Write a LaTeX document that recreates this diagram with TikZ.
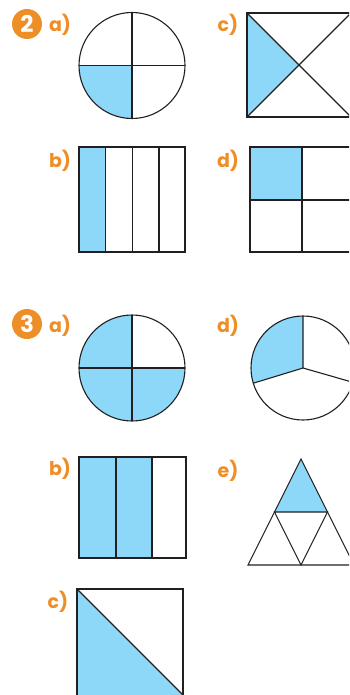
\documentclass[tikz,border=0pt]{standalone}
\usepackage{fontspec}
\setmainfont{Poppins}
\usetikzlibrary{arrows,shapes}
\definecolor{qblue}{HTML}{8DD8F8}
\definecolor{qorange}{HTML}{EE8E26}
\definecolor{qline}{HTML}{231F20}
\tikzstyle{part}=[draw=qline,line width=1.1pt,line join=miter]
\tikzstyle{shade}=[fill=qblue]
\tikzstyle{qlabel}=[text=qorange,font=\bfseries\fontsize{19}{19}\selectfont,inner sep=0pt]
\tikzstyle{qnum}=[circle,fill=qorange,text=white,minimum size=30pt,inner sep=0pt,font=\bfseries\fontsize{23}{23}\selectfont]

\begin{document}
\begin{tikzpicture}[x=1pt,y=-1pt]
\useasboundingbox (0,0) rectangle (349,695);
\clip (0,0) rectangle (349,695);
% question 2
\node[qnum] (Q2) at (27,24) {2};
\node[qlabel] (L2a) at (60,25) {a)};
\node[qlabel] (L2c) at (228,25) {c)};
\node[qlabel] (L2b) at (60,161) {b)};
\node[qlabel] (L2d) at (228,161) {d)};
\coordinate (C2a) at (132,65.5);
\fill[shade] (C2a) -- +(90:53) arc[start angle=90,end angle=180,radius=53] -- cycle;
\draw[part] (C2a) circle[radius=53];
\draw[part] (79,65.5)--(185,65.5) (132,12.5)--(132,118.5);
\fill[shade] (247,13)--(299,65)--(247,117)--cycle;
\draw[part] (247,13) rectangle (351,117);
\draw[part] (247,13)--(351,117) (247,117)--(351,13);
\fill[shade] (79,147) rectangle (105.7,252);
\draw[part] (79,147) rectangle (185,252);
\draw[part] (105.7,147)--(105.7,252) (132.3,147)--(132.3,252) (159,147)--(159,252);
\fill[shade] (250,147) rectangle (302,200);
\draw[part] (250,147) rectangle (354,252);
\draw[part] (302,147)--(302,252) (250,200)--(354,200);
% question 3
\node[qnum] (Q3) at (27,324) {3};
\node[qlabel] (L3a) at (60,326) {a)};
\node[qlabel] (L3d) at (228,326) {d)};
\node[qlabel] (L3b) at (60,469) {b)};
\node[qlabel] (L3e) at (228,471) {e)};
\node[qlabel] (L3c) at (58,602) {c)};
\coordinate (C3a) at (132,368);
\fill[shade] (C3a) -- +(0:53) arc[start angle=0,end angle=270,radius=53] -- cycle;
\draw[part] (C3a) circle[radius=53];
\draw[part] (79,368)--(185,368) (132,315)--(132,421);
\coordinate (C3d) at (303,368);
\fill[shade] (C3d) -- +(163:52) arc[start angle=163,end angle=270,radius=52] -- cycle;
\draw[part] (C3d) circle[radius=52];
\draw[part] (C3d)--+(270:52) (C3d)--+(163:52) (C3d)--+(16:52);
\fill[shade] (79,457) rectangle (152,558);
\draw[part] (79,457) rectangle (186,558);
\draw[part] (116,457)--(116,558) (152,457)--(152,558);
\fill[shade] (301,459)--(274.5,512)--(327.5,512)--cycle;
\draw[part] (301,459)--(248,565)--(354,565)--cycle;
\draw[part] (274.5,512)--(327.5,512)--(301,565)--cycle;
\fill[shade] (77,589)--(183,695)--(77,695)--cycle;
\draw[part] (77,589) rectangle (183,696);
\draw[part] (77,589)--(183,695);
\end{tikzpicture}
\end{document}
